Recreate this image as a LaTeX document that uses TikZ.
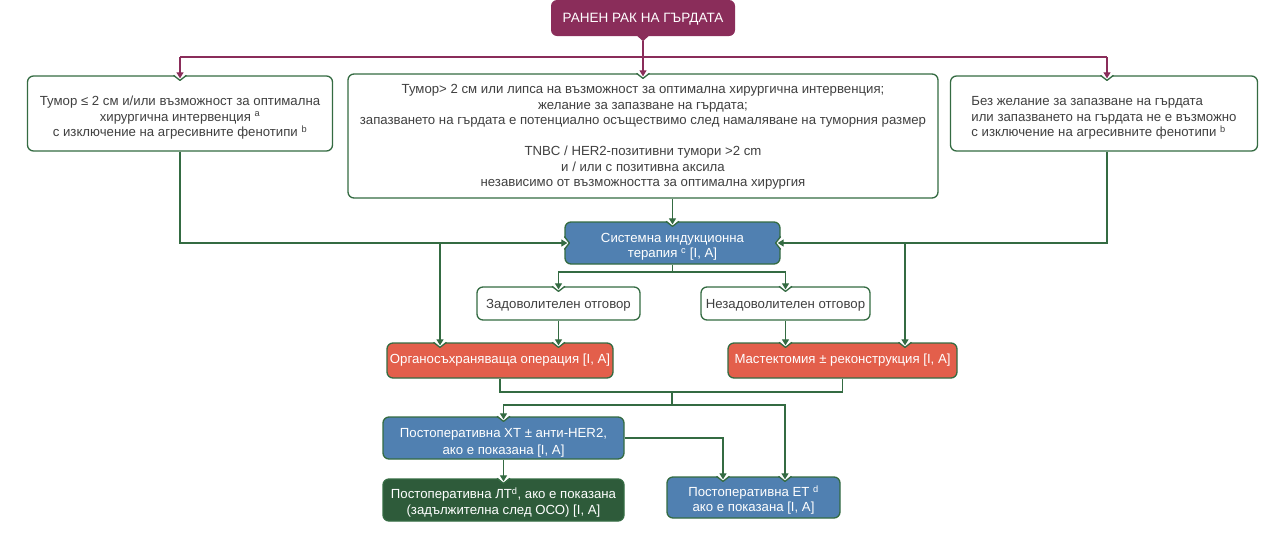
\documentclass[tikz,border=0pt]{standalone}
\usepackage{fontspec}
\setmainfont{Liberation Sans}
\usetikzlibrary{arrows.meta,calc}
\definecolor{maroon}{HTML}{8A2D5A}
\definecolor{gborder}{HTML}{346B42}
\definecolor{bluef}{HTML}{5080B1}
\definecolor{redf}{HTML}{E35F4B}
\definecolor{dgreenf}{HTML}{2E5B3A}
\definecolor{txtgray}{HTML}{404040}
\newcommand\dnbox[3][c]{\raisebox{-#2}[\height][\depth]{\begin{tabular}{@{}#1@{}}#3\end{tabular}}}
\tikzset{
  base/.style={rounded corners=6pt, draw=gborder, line width=1.3pt, inner sep=0pt,
    font=\fontsize{13.2}{15.5}\selectfont, align=center},
  wbox/.style={base, fill=white, text=txtgray},
  bbox/.style={base, fill=bluef, text=white},
  rbox/.style={base, fill=redf, text=white},
  gbox/.style={base, fill=dgreenf, text=white},
  conn/.style={draw=gborder, line width=1.2pt},
  arr/.style={conn, -{Triangle[width=7pt,length=6pt]}, shorten >=-3pt},
  marr/.style={draw=maroon, line width=1.1pt, -{Triangle[width=7pt,length=6pt]}, shorten >=-3pt},
  pics/notch/.style={code={
    \fill[white] (-6,-0.9) -- (0,5) -- (6,-0.9) -- cycle;
    \draw[gborder, line width=1.3pt, line join=round] (-6.5,0) -- (0,5) -- (6.5,0);
  }}
}
\begin{document}
\begin{tikzpicture}[x=1pt,y=-1pt]
\useasboundingbox (0,0) rectangle (1280,539);

% top callout
\node[rounded corners=6pt, fill=maroon, text=white, minimum width=184pt, minimum height=36pt,
  inner sep=0pt, font=\fontsize{13.5}{15}\selectfont] (top) at (643,18) {\dnbox{1pt}{РАНЕН РАК НА ГЪРДАТА}};
\fill[maroon] ($(top.south)+(-6,-0.5)$) -- ($(top.south)+(0,5)$) -- ($(top.south)+(6,-0.5)$) -- cycle;

% first row
\node[wbox, minimum width=305pt, minimum height=75pt] (L) at (180,113.5)
  {\dnbox{4.5pt}{Тумор ≤ 2 см и/или възможност за оптимална\\хирургична интервенция \textsuperscript{a}\\с изключение на агресивните фенотипи \textsuperscript{b}}};
\node[wbox, minimum width=590pt, minimum height=124pt] (M) at (643,136)
  {\dnbox{1pt}{Тумор> 2 см или липса на възможност за оптимална хирургична интервенция;\\желание за запазване на гърдата;\\запазването на гърдата е потенциално осъществимо след намаляване на туморния размер\\\mbox{}\\TNBC / HER2-позитивни тумори >2 cm\\и / или с позитивна аксила\\независимо от възможността за оптимална хирургия}};
\node[wbox, minimum width=307pt, minimum height=75pt] (R) at (1104,113.5)
  {\dnbox[l]{4.5pt}{Без желание за запазване на гърдата\\или запазването на гърдата не е възможно\\с изключение на агресивните фенотипи \textsuperscript{b}}};

% lower rows
\node[bbox, minimum width=215pt, minimum height=42pt] (sys) at (672.5,243)
  {\dnbox{4pt}{Системна индукционна\\терапия \textsuperscript{c} [I, A]}};
\node[wbox, minimum width=163pt, minimum height=33pt] (sat) at (558.5,303.5) {\dnbox{2pt}{Задоволителен отговор}};
\node[wbox, minimum width=169pt, minimum height=33pt] (unsat) at (785.5,303.5) {\dnbox{2pt}{Незадоволителен отговор}};
\node[rbox, minimum width=226pt, minimum height=35pt] (bcs) at (500,360.5) {Органосъхраняваща операция [I, A]};
\node[rbox, minimum width=229pt, minimum height=35pt] (mast) at (842.5,360.5) {Мастектомия ± реконструкция [I, A]};
\node[bbox, minimum width=241pt, minimum height=42pt] (chemo) at (503.5,438)
  {\dnbox{4.5pt}{Постоперативна ХТ ± анти-HER2,\\[1.5pt]ако е показана [I, A]}};
\node[gbox, minimum width=241pt, minimum height=42pt] (rt) at (503.5,500)
  {\dnbox{3.5pt}{Постоперативна ЛТ\textsuperscript{d}, ако е показана\\(задължителна след ОСО) [I, A]}};
\node[bbox, minimum width=173pt, minimum height=41pt] (et) at (753.5,497.5)
  {\dnbox{3.5pt}{Постоперативна ЕТ \textsuperscript{d}\\ако е показана [I, A]}};

% helper coordinates
\coordinate (bar) at (643,57);
\coordinate (xR) at (1107,0);
\coordinate (xBL) at (440,0);
\coordinate (xBR) at (905,0);
\coordinate (split) at (672.5,272);
\coordinate (join1) at (672,392);
\coordinate (join2) at (672,405);
\coordinate (xET1) at (723,0);
\coordinate (xET2) at (785,0);

% notches
\pic at (L.north) {notch};
\pic at (M.north) {notch};
\pic at (R.north -| xR) {notch};
\pic at (sys.north) {notch};
\pic[rotate=90] at (sys.west) {notch};
\pic[rotate=-90] at (sys.east) {notch};
\pic at (sat.north) {notch};
\pic at (unsat.north) {notch};
\pic at (bcs.north -| xBL) {notch};
\pic at (bcs.north -| sat.south) {notch};
\pic at (mast.north -| unsat.south) {notch};
\pic at (mast.north -| xBR) {notch};
\pic at (chemo.north) {notch};
\pic at (rt.north) {notch};
\pic at (et.north -| xET1) {notch};
\pic at (et.north -| xET2) {notch};

% maroon connectors
\draw[draw=maroon, line width=1.1pt] (L.north |- bar) -- (xR |- bar);
\draw[marr] ($(top.south)+(0,5)$) -- (M.north);
\draw[marr] (L.north |- bar) -- (L.north);
\draw[marr] (xR |- bar) -- (R.north -| xR);

% green connectors
\draw[arr] (M.south -| sys.north) -- (sys.north);
\draw[arr] (L.south) -- (L.south |- sys.west) -- (sys.west);
\draw[arr] (R.south -| xR) -- (xR |- sys.east) -- (sys.east);
\draw[arr] (xBL |- sys.west) -- (bcs.north -| xBL);
\draw[arr] (xBR |- sys.east) -- (mast.north -| xBR);
\draw[conn] (sys.south) -- (split);
\draw[arr] (split) -| (sat.north);
\draw[arr] (split) -| (unsat.north);
\draw[arr] (sat.south) -- (bcs.north -| sat.south);
\draw[arr] (unsat.south) -- (mast.north -| unsat.south);
\draw[conn] (bcs.south) |- (join1) -| (mast.south);
\draw[conn] (join1) -- (join2);
\draw[arr] (join2) -| (chemo.north);
\draw[arr] (join2) -| (et.north -| xET2);
\draw[arr] (chemo.east) -| (et.north -| xET1);
\draw[arr] (chemo.south) -- (rt.north);
\end{tikzpicture}
\end{document}
